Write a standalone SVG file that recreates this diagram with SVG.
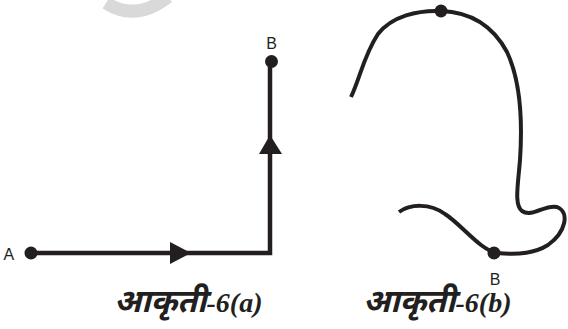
<svg xmlns="http://www.w3.org/2000/svg" width="568" height="329" viewBox="0 0 568 329">
<style>
.ln{fill:none;stroke:#231f20;stroke-width:4.5;stroke-linejoin:miter;stroke-linecap:butt}
.cv{fill:none;stroke:#231f20;stroke-width:4;stroke-linecap:butt;stroke-linejoin:round}
.dot{fill:#231f20}
.lbl{font-family:"Liberation Sans",Arial,sans-serif;fill:#231f20}
.cap{font-family:"Noto Sans Devanagari","Noto Sans","Liberation Serif",serif;font-size:32px;font-weight:bold;font-style:italic;fill:#231f20}
.num{font-family:"Liberation Serif","Times New Roman",serif;font-size:28px;font-weight:bold;font-style:italic}
</style>
<rect width="568" height="329" fill="#ffffff"/>
<path d="M106,3 Q136,22 168,-3" fill="none" stroke="#d9d9d9" stroke-width="13"/>
<g id="connectors">
<path class="ln" d="M32,253 H270 V61"/>
<path class="cv" d="M351,97 C360,78 364,55 378,34 C392,16 418,10 441,11 C470,12 493,26 507,52 C522,84 522,130 520,160 C518,185 514,205 522,211 C532,218 545,204 557,207 C570,212 566,232 548,245 C535,253 520,255 497,253 C480,250 462,225 445,214 C430,203 410,204 399,212"/>
</g>
<g id="arrow-a1"><polygon class="dot" points="170,242 191,253 170,264"/></g>
<g id="arrow-a2"><polygon class="dot" points="259,154 270,135 282,154"/></g>
<g id="node-A"><circle class="dot" cx="31" cy="253" r="6.5"/><text class="lbl" font-size="16" x="3.5" y="260">A</text></g>
<g id="node-B-a"><circle class="dot" cx="271.5" cy="61.5" r="6.5"/><text class="lbl" font-size="16" x="271.5" y="49" text-anchor="middle">B</text></g>
<g id="node-top-b"><circle class="dot" cx="441" cy="11" r="6.5"/></g>
<g id="node-B-b"><circle class="dot" cx="494" cy="253" r="6.5"/><text class="lbl" font-size="16" x="495" y="285" text-anchor="middle">B</text></g>
<g id="caption-a"><text class="cap" x="114" y="312">आकृती<tspan class="num">-6(a)</tspan></text></g>
<g id="caption-b"><text class="cap" x="363" y="312">आकृती<tspan class="num">-6(b)</tspan></text></g>
</svg>
